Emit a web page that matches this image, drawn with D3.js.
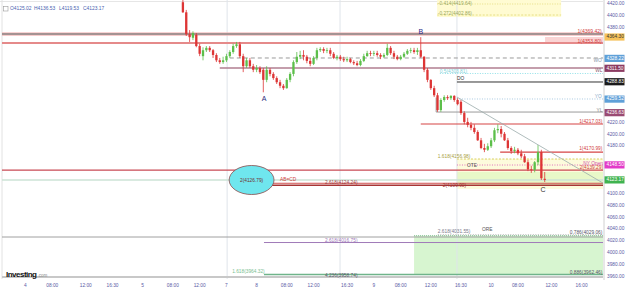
<!DOCTYPE html>
<html><head><meta charset="utf-8">
<script src="https://cdn.jsdelivr.net/npm/d3@7"></script>
<style>html,body{margin:0;padding:0;background:#fff;overflow:hidden}</style>
</head><body><svg id="c" width="625" height="288"></svg>
<script>
// ---------- data ----------
const firstSlot = 54;
const opens = [4423,4406,4369,4363,4368,4349,4332,4342,4346,4342,
4334,4325,4322,4325,4332,4339,4349,4352,4332,4315,
4325,4315,4309,4312,4309,4292,4309,4302,4295,4288,
4282,4278,4292,4302,4322,4331,4334,4331,4324,4319,
4329,4342,4344,4341,4342,4336,4329,4331,4327,4325,
4327,4322,4320,4317,4324,4332,4337,4336,4337,4334,
4331,4334,4346,4337,4331,4327,4331,4336,4341,4342,
4339,4342,4331,4309,4292,4278,4266,4241,4258,4263,
4261,4265,4258,4255,4236,4221,4216,4211,4204,4190,
4177,4174,4180,4190,4207,4209,4201,4190,4177,4172,
4174,4168,4163,4153,4141,4140,4153,4170,4125.02];
const highs = [4427,4410,4376,4374,4371,4353,4347,4349,4349,4344,
4337,4329,4331,4336,4342,4353,4356,4356,4336,4329,
4329,4319,4317,4315,4312,4315,4312,4305,4298,4292,
4285,4295,4305,4325,4339,4341,4342,4334,4329,4332,
4346,4347,4347,4346,4346,4339,4334,4334,4331,4331,
4329,4325,4324,4327,4336,4341,4341,4341,4341,4337,
4337,4353,4349,4341,4334,4334,4339,4344,4346,4346,
4346,4364,4332,4312,4293,4282,4270,4261,4266,4266,
4266,4266,4261,4258,4239,4228,4221,4217,4207,4194,
4184,4185,4194,4211,4217,4214,4204,4194,4180,4179,
4177,4174,4167,4157,4147,4155,4182,4174,4136.53];
const lows = [4405,4366,4356,4359,4347,4332,4325,4339,4339,4329,
4322,4319,4319,4322,4329,4336,4346,4329,4305,4312,
4312,4305,4305,4302,4271,4288,4298,4292,4285,4278,
4275,4277,4288,4298,4319,4327,4325,4320,4315,4317,
4325,4339,4337,4337,4332,4327,4325,4324,4322,4322,
4320,4317,4315,4315,4322,4331,4332,4332,4331,4327,
4329,4332,4334,4327,4325,4325,4329,4334,4337,4336,
4334,4329,4305,4288,4275,4263,4238,4238,4255,4258,
4258,4255,4249,4233,4217,4212,4207,4201,4189,4175,
4170,4172,4177,4187,4202,4195,4189,4174,4167,4168,
4165,4160,4152,4138,4135,4136,4148,4123,4119.53];
const closes = [4406,4369,4364,4371,4349,4336,4342,4346,4342,4334,
4325,4322,4325,4332,4339,4349,4352,4332,4315,4325,
4315,4309,4312,4305,4292,4309,4302,4295,4288,4282,
4278,4292,4302,4322,4331,4334,4331,4324,4319,4329,
4342,4344,4341,4342,4336,4329,4331,4327,4325,4327,
4322,4320,4317,4324,4332,4337,4336,4337,4334,4331,
4334,4346,4337,4331,4327,4331,4336,4341,4342,4339,
4342,4331,4309,4292,4278,4266,4241,4258,4263,4261,
4265,4258,4251,4236,4221,4216,4211,4204,4190,4177,
4174,4180,4190,4207,4209,4201,4190,4177,4172,4174,
4168,4163,4153,4141,4140,4153,4170,4126,4123.17];
const tickSlots = [7,15,25,33,42,51,59,67,76,85,93,103,111,119,128,137,146,154,164,173];
const tickLabels = ["4","08:00","12:00","16:30","5","08:00","12:00","7","8","08:00","12:00","16:30","9","08:00","12:00","16:30","10","08:00","12:00","16:00"];
const priceTicks = d3.range(3960, 4421, 20);
const legendItems = ["O4125.02","H4136.53","L4119.53","C4123.17"];
const boxValues = [4364.30, 4328.22, 4311.50, 4288.83, 4259.52, 4236.63, 4148.50, 4123.17];
const boxColors = ["#f6c25a","#5fa0d8","#8c3b62","#1a1a1a","#5fa0d8","#9a4a72","#e23bc8","#3fb34f"];
const boxText   = ["#333","#fff","#fff","#fff","#fff","#fff","#fff","#fff"];

// ---------- scales ----------
const svg = d3.select('#c');
const R = 179.4;
const x = d3.scaleLinear().domain([0, R]).range([2, 603]);
const y = d3.scaleLinear().domain([3960, 4420]).range([276.6, 4]);
const font = "'Liberation Sans', Arial, sans-serif";

function zone(s0,s1,v0,v1,fill){ svg.append('rect').attr('x',x(s0)).attr('y',y(v1)).attr('width',x(s1)-x(s0)).attr('height',y(v0)-y(v1)).attr('fill',fill); }
function hl(v,s0,s1,color,w,dash){ svg.append('line').attr('x1',x(s0)).attr('x2',x(s1)).attr('y1',y(v)).attr('y2',y(v)).attr('stroke',color).attr('stroke-width',w||1).attr('stroke-dasharray',dash||null); }
function tx(s,v,str,color,size,anchor,weight){ svg.append('text').attr('x',x(s)).attr('y',y(v)).attr('fill',color).attr('font-size',size||5).attr('font-weight',weight||'normal').attr('text-anchor',anchor||'start').attr('font-family',font).attr('dominant-baseline','middle').text(str); }

// frame
svg.append('line').attr('x1',0).attr('x2',603).attr('y1',1.5).attr('y2',1.5).attr('stroke','#e6e6e6');
svg.append('line').attr('x1',2).attr('x2',2).attr('y1',0).attr('y2',279).attr('stroke','#e2e2e2');

// zones
zone(129.9,166.9,4398,4432,'#fffbd2');
zone(162.1,R,4354.2,4364.3,'#fad4d4');
zone(135.8,R,4108,4158.4,'#fdfbdc');
zone(135.8,R,4114.6,4136.5,'#e8f8c8');
zone(123,R,3963.5,4029,'#d7f5d0');
hl(4420,129.9,166.9,'#e0d870',0.8,'1,1.5');
hl(4401.4,129.9,166.9,'#e0d870',0.8,'2,1.5');

// vertical separators
[67.2,100.9,135.8].forEach(s=>svg.append('line').attr('x1',x(s)).attr('x2',x(s)).attr('y1',0).attr('y2',279).attr('stroke','#dfe4ea').attr('stroke-width',1));

// levels
zone(0,R,4366.6,4372,'#f3b0b0');
hl(4369.4,0,R,'#8a8a8a',1.4);
hl(4354.2,0,R,'#e58a8a',1.8);
hl(4328.9,68,R,'#9a9a9a',1,'4,3');
hl(4312,65,R,'#b07e90',1.6);
hl(4302.7,130.7,R,'#8fe0e8',1,'1,1.5');
hl(4288.4,135.8,R,'#333',1);
hl(4259.7,135.8,R,'#a8c8e0',1,'1,1.5');
hl(4237.7,129.6,R,'#9a9a9a',1);
svg.append('line').attr('x1',x(129.6)).attr('x2',x(129.6)).attr('y1',y(4262)).attr('y2',y(4237.7)).attr('stroke','#9a9a9a');
hl(4217.5,125,R,'#d64545',1.2);
hl(4170.2,148.7,R,'#d64545',1.2);
hl(4158.4,135.8,R,'#d8d060',1,'2,1.5');
hl(4148.3,135.8,R,'#e070c0',1,'1,1.5');
hl(4139.8,0,R,'#c94a55',1.2);
hl(4122.9,0,R,'#cde3d6',1.5);
hl(4117.5,78,R,'#d05050',1);
hl(4114,78,R,'#a83535',1.5);
hl(4030.6,130.1,R,'#9a9a9a',0.8,'1,1.5');
hl(4029,123,R,'#7fbf8f',1,'1,1');
hl(4026.8,0,R,'#a0a0a0',1);
hl(4017.5,78.2,R,'#a07ab8',1);
hl(3963.5,78.2,R,'#6fb48a',1.5);
hl(3959.2,0,R,'#c8c8c8',2);

// candles
const bw = 2.3;
const g = svg.append('g');
opens.forEach((o,i)=>{
  const s = firstSlot + i, c = closes[i];
  const col = c >= o ? '#5cbf4a' : '#dd3535';
  g.append('line').attr('x1',x(s)).attr('x2',x(s)).attr('y1',y(highs[i])).attr('y2',y(lows[i])).attr('stroke',col).attr('stroke-width',0.8);
  const top = y(Math.max(o,c)), bot = y(Math.min(o,c));
  g.append('rect').attr('x',x(s)-bw/2).attr('y',top).attr('width',bw).attr('height',Math.max(0.8,bot-top)).attr('fill',col);
});

// trendline
svg.append('line').attr('x1',x(135.8)).attr('y1',y(4263)).attr('x2',x(R)).attr('y2',y(4117.8)).attr('stroke','#9aabab').attr('stroke-width',0.8);

// ellipse
svg.append('ellipse').attr('cx',x(74.5)).attr('cy',y(4123)).attr('rx',x(74.5+6.7)-x(74.5)).attr('ry',y(4123-24.5)-y(4123)).attr('fill','#6fe6ee').attr('stroke','#8b4a4a').attr('stroke-width',0.8);
tx(74.5,4122,'2(4126.79)','#703030',4.8,'middle');

// level texts
const red='#d04040';
tx(179,4372.7,'1(4369.42)',red,5,'end');
tx(179,4356.5,'1(4353.80)',red,5,'end');
tx(130.1,4420,'-0.414(4419.64)','#9aa860',4.8);
tx(130.1,4403.1,'-0.272(4402.86)','#9aa860',4.8);
tx(179,4323.8,'WO','#8899aa',4.8,'end');
tx(179.2,4307,'WL','#8a5a70',4.8,'end');
tx(130.7,4305,'0.5(4303.81)','#7ed0d8',4.8);
tx(135.8,4293.4,'DO','#333',4.8);
tx(179,4263,'YO','#8aaac8',4.8,'end');
tx(179.2,4239.4,'YL','#888',4.8,'end');
tx(179.2,4220.8,'1(4217.03)',red,4.8,'end');
tx(179.2,4175.3,'1(4170.99)',red,4.8,'end');
tx(130.1,4161.8,'1.618(4156.98)','#a8a040',4.8);
tx(179.4,4151,'NY Open','#d050b0',4.8,'end');
tx(179.4,4143.2,'2(4139.29)',red,4.8,'end');
tx(138.8,4146.6,'OTE','#555',4.8);
tx(131.6,4112.8,'2(4109.90)','#a03030',4.8);
tx(96.4,4117.9,'2.618(4124.24)','#a04040',4.8);
tx(83,4123.5,'AB=CD',red,4.8);
tx(78.2,4259.7,'A','#2a2a7a',7,'middle');
tx(125,4372.7,'B','#2a2a8a',7,'middle');
tx(161.5,4106.1,'C','#333',7,'middle');
tx(130.1,4035.2,'2.618(4031.55)','#7a7a8a',4.8);
tx(143.3,4038.6,'ORE','#555',4.8);
tx(179.2,4033.5,'0.786(4029.06)','#556',4.8,'end');
tx(96.4,4020.8,'2.618(4016.75)','#a07ab8',4.8);
tx(96.4,3962,'4.236(3958.74)','#556',4.8);
tx(68.7,3967.7,'1.618(3964.32)','#7ac090',4.8);
tx(179.2,3966,'0.886(3962.46)','#556',4.8,'end');

// right axis
svg.append('line').attr('x1',604).attr('x2',604).attr('y1',0).attr('y2',280).attr('stroke','#d0d0d0');
priceTicks.forEach(v=>{
  const hidden = boxValues.some(b=>Math.abs(y(b)-y(v))<7.5);
  if (hidden) return;
  svg.append('text').attr('x',607).attr('y',y(v)).attr('dominant-baseline','middle').attr('font-size',4.8).attr('font-family',font).attr('fill','#5a5aa5').text(d3.format('.2f')(v));
});
boxValues.forEach((v,i)=>{
  svg.append('rect').attr('x',604.5).attr('y',y(v)-3.6).attr('width',20).attr('height',7.2).attr('fill',boxColors[i]);
  svg.append('text').attr('x',606.5).attr('y',y(v)).attr('dominant-baseline','middle').attr('font-size',4.8).attr('font-family',font).attr('fill',boxText[i]).text(d3.format('.2f')(v));
});

// bottom axis labels
tickSlots.forEach((s,i)=>{
  svg.append('text').attr('x',x(s)).attr('y',285.5).attr('dominant-baseline','middle').attr('text-anchor','middle').attr('font-size',4.8).attr('font-family',font).attr('fill','#5a5aa5').text(tickLabels[i]);
});

// logo
svg.append('text').attr('x',6).attr('y',277).attr('font-size',8).attr('font-weight','bold').attr('font-family',font).attr('fill','#111').attr('textLength',31).text('Investing');
svg.append('text').attr('x',37.5).attr('y',277).attr('font-size',4.5).attr('font-family',font).attr('fill','#888').text('.com');

// legend
svg.append('rect').attr('x',3.5).attr('y',6.5).attr('width',4.5).attr('height',4.5).attr('fill','none').attr('stroke','#999').attr('stroke-width',0.6);
const lx = [10,34,59,83];
legendItems.forEach((t,i)=>{
  svg.append('text').attr('x',lx[i]).attr('y',9).attr('dominant-baseline','middle').attr('font-size',4.9).attr('font-family',font).attr('fill','#4a5fb0').text(t);
});
</script></body></html>
